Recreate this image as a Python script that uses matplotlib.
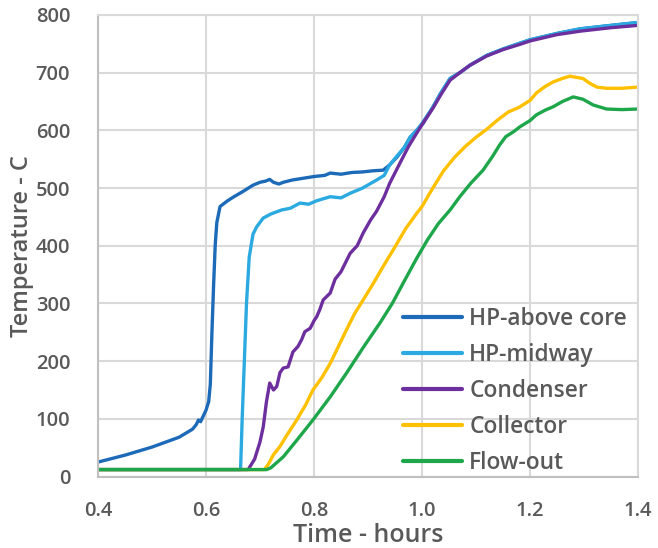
import matplotlib
matplotlib.use("Agg")
import matplotlib.pyplot as plt

plt.rcParams['font.family'] = ['Open Sans', 'DejaVu Sans']

# ---- data ----
hp_above_x = [0.40, 0.45, 0.50, 0.55, 0.575, 0.582, 0.586, 0.59, 0.60, 0.605, 0.608, 0.611, 0.614,
              0.617, 0.620, 0.626, 0.64, 0.65, 0.67, 0.687, 0.70, 0.71, 0.718, 0.725, 0.735, 0.743,
              0.76, 0.78, 0.80, 0.82, 0.83, 0.85, 0.87, 0.89, 0.91, 0.928, 0.94, 0.954, 0.967, 0.978,
              0.99, 1.002, 1.02, 1.035, 1.052, 1.07, 1.089, 1.12, 1.15, 1.181, 1.20, 1.25, 1.293,
              1.35, 1.40]
hp_above_y = [25, 37, 51, 68, 82, 90, 98, 95, 115, 130, 160, 250, 330,
              400, 440, 468, 478, 484, 495, 505, 510, 512, 515, 510, 507, 510,
              514, 517, 520, 522, 526, 524, 527, 528, 530, 531, 540, 554, 570, 588,
              600, 612, 640, 665, 690, 700, 713, 730, 741, 751, 757, 768, 776,
              782, 787]

hp_mid_x = [0.40, 0.664, 0.667, 0.671, 0.675, 0.68, 0.687, 0.694, 0.706, 0.72, 0.74, 0.756, 0.774,
            0.79, 0.805, 0.83, 0.85, 0.867, 0.89, 0.916, 0.93, 0.94, 0.954, 0.967, 0.978, 0.99, 1.0,
            1.02, 1.035, 1.052, 1.07, 1.089, 1.12, 1.15, 1.181, 1.20, 1.25, 1.293, 1.35, 1.40]
hp_mid_y = [12, 12, 100, 200, 300, 380, 420, 433, 448, 455, 462, 465, 474,
            472, 478, 485, 483, 491, 500, 514, 522, 540, 556, 570, 588, 600, 612,
            640, 665, 690, 700, 713, 730, 741, 751, 757, 768, 776, 782, 787]

cond_x = [0.40, 0.678, 0.69, 0.70, 0.706, 0.712, 0.718, 0.725, 0.731, 0.737, 0.743, 0.752, 0.761,
          0.77, 0.777, 0.783, 0.793, 0.80, 0.805, 0.811, 0.817, 0.83, 0.839, 0.85, 0.867, 0.88,
          0.891, 0.905, 0.916, 0.93, 0.94, 0.959, 0.975, 0.99, 1.0, 1.02, 1.035, 1.052, 1.07,
          1.089, 1.12, 1.15, 1.181, 1.20, 1.25, 1.293, 1.35, 1.40]
cond_y = [12, 12, 30, 60, 86, 130, 162, 150, 156, 180, 188, 190, 216,
          225, 237, 251, 257, 270, 277, 290, 306, 318, 342, 355, 387, 400,
          422, 445, 460, 485, 508, 543, 572, 595, 610, 638, 662, 687, 700,
          713, 729, 740, 749, 755, 766, 772, 778, 782]

coll_x = [0.40, 0.708, 0.716, 0.725, 0.737, 0.75, 0.768, 0.785, 0.798, 0.815, 0.83, 0.845, 0.86,
          0.875, 0.891, 0.91, 0.928, 0.95, 0.97, 0.99, 1.0, 1.02, 1.04, 1.06, 1.08, 1.10, 1.12,
          1.14, 1.16, 1.18, 1.20, 1.212, 1.228, 1.243, 1.26, 1.274, 1.285, 1.298, 1.31, 1.324,
          1.342, 1.37, 1.40]
coll_y = [12, 12, 22, 38, 52, 72, 98, 125, 150, 172, 196, 225, 254,
          282, 306, 335, 364, 398, 430, 456, 468, 500, 530, 553, 572, 588, 602,
          618, 632, 640, 652, 665, 676, 684, 690, 694, 692, 690, 682, 675,
          673, 673, 675]

flow_x = [0.40, 0.712, 0.72, 0.743, 0.77, 0.798, 0.83, 0.86, 0.89, 0.922, 0.945, 0.965, 0.99,
          1.01, 1.03, 1.052, 1.07, 1.09, 1.113, 1.13, 1.144, 1.155, 1.17, 1.181, 1.20, 1.212,
          1.228, 1.243, 1.26, 1.28, 1.298, 1.317, 1.342, 1.37, 1.40]
flow_y = [12, 12, 15, 34, 65, 98, 138, 179, 222, 266, 300, 335, 378,
          410, 438, 462, 485, 508, 531, 554, 575, 589, 598, 606, 617, 627,
          635, 641, 650, 658, 654, 644, 637, 636, 637]

series_names = ["HP-above core", "HP-midway", "Condenser", "Collector", "Flow-out"]
series_colors = ["#1C6AB8", "#2BA9E1", "#6E2F9E", "#FFC000", "#1EA64A"]

x_ticks = [0.4, 0.6, 0.8, 1.0, 1.2, 1.4]
x_tick_labels = ["0.4", "0.6", "0.8", "1.0", "1.2", "1.4"]
y_ticks = [0, 100, 200, 300, 400, 500, 600, 700, 800]

# ---- figure ----
fig = plt.figure(figsize=(6.58, 5.48), dpi=100)
ax = fig.add_axes([98 / 658, 1 - 476.5 / 548, 540 / 658, 461.5 / 548])

data = [(hp_above_x, hp_above_y), (hp_mid_x, hp_mid_y), (cond_x, cond_y),
        (coll_x, coll_y), (flow_x, flow_y)]
for (xs, ys), name, c in zip(data, series_names, series_colors):
    ax.plot(xs, ys, color=c, lw=2.4, label=name, solid_capstyle='round')

ax.set_xlim(0.4, 1.4)
ax.set_ylim(0, 800)
ax.set_xticks(x_ticks)
ax.set_xticklabels(x_tick_labels)
ax.set_yticks(y_ticks)

text_color = "#595959"
grid_color = "#D9D9D9"
ax.grid(True, color=grid_color, lw=1.5)
ax.set_axisbelow(True)
for s in ax.spines.values():
    s.set_color(grid_color)
    s.set_linewidth(1.5)
ax.spines['left'].set_color("#BFBFBF")
ax.spines['bottom'].set_color("#BFBFBF")

ax.tick_params(axis='x', length=0, labelsize=14.5, labelcolor=text_color, pad=18)
ax.tick_params(axis='y', length=0, labelsize=14.5, labelcolor=text_color, pad=20)
for lbl in ax.get_xticklabels() + ax.get_yticklabels():
    lbl.set_fontweight('semibold')

ax.set_xlabel("Time - hours", fontsize=18, fontweight='semibold', color=text_color)
ax.xaxis.set_label_coords(0.5, -0.101)
ax.set_ylabel("Temperature - C", fontsize=17, fontweight='semibold', color=text_color)
ax.yaxis.set_label_coords(-(98 - 22) / 540, 0.5)
ax.yaxis.label.set_verticalalignment('center')

leg = ax.legend(loc='lower left', bbox_to_anchor=(0.565, 0.004), frameon=False,
                fontsize=16.4, handlelength=2.6, handletextpad=0.3, labelspacing=0.52,
                borderpad=0, borderaxespad=0)
for t in leg.get_texts():
    t.set_color(text_color)
    t.set_fontweight('semibold')
for h in leg.legend_handles:
    h.set_linewidth(3)

fig.savefig("out.png", dpi=100)
